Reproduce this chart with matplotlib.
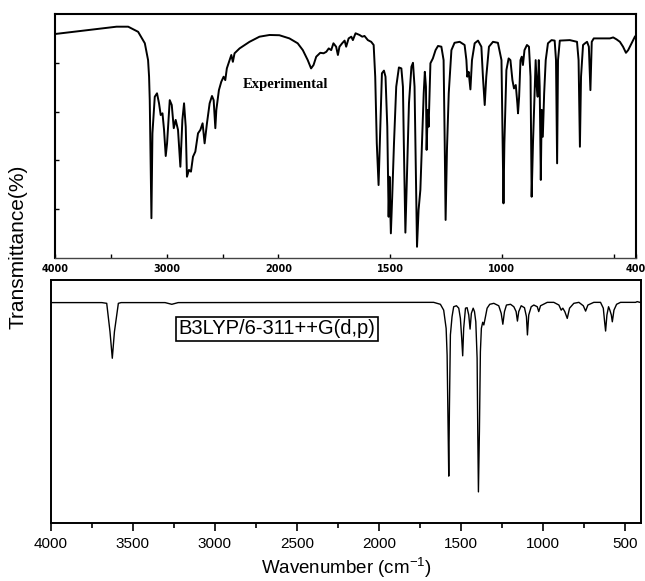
import matplotlib
matplotlib.use("Agg")
import matplotlib.pyplot as plt
import numpy as np

# experimental spectrum
top_wn = [4000, 3449, 3345, 3256, 3196, 3167, 3158, 3152, 3137, 3128, 3107, 3087, 3069, 3054, 3038, 3024,
          3009, 2997, 2973, 2955, 2937, 2920, 2899, 2878, 2860, 2845, 2830, 2819, 2801, 2783, 2765, 2744,
          2720, 2699, 2679, 2661, 2640, 2616, 2595, 2580, 2565, 2556, 2533, 2512, 2491, 2476, 2462, 2437,
          2422, 2408, 2393, 2348, 2259, 2170, 2080, 1996, 1951, 1914, 1891, 1869, 1854, 1843, 1831, 1813,
          1798, 1786, 1775, 1764, 1754, 1742, 1734, 1727, 1715, 1704, 1697, 1686, 1674, 1667, 1655, 1637,
          1625, 1615, 1600, 1585, 1574, 1567, 1560, 1552, 1544, 1537, 1528, 1521, 1513, 1507, 1503, 1497,
          1491, 1483, 1473, 1461, 1450, 1443, 1439, 1432, 1425, 1416, 1405, 1398, 1391, 1386, 1380, 1373,
          1365, 1358, 1350, 1345, 1340, 1337, 1332, 1328, 1320, 1309, 1297, 1286, 1271, 1261, 1256, 1252,
          1246, 1238, 1226, 1212, 1189, 1167, 1159, 1155, 1149, 1141, 1134, 1122, 1107, 1092, 1085, 1077,
          1070, 1058, 1040, 1018, 1002, 998, 993, 989, 980, 970, 962, 953, 946, 938, 931, 928, 923, 917,
          911, 906, 899, 888, 879, 872, 867, 861, 854, 849, 844, 840, 835, 831, 826, 822, 817, 811, 804,
          794, 778, 764, 758, 753, 749, 741, 696, 664, 657, 651, 646, 637, 628, 619, 611, 604, 598, 589,
          517, 502, 487, 472, 458, 445, 435, 420, 405]
top_T = [91.8, 94.8, 94.8, 92.7, 88.0, 81.1, 74.3, 64.7, 16.3, 51.1, 66.1, 67.5, 63.4, 58.6, 59.3, 52.5,
         41.8, 47.0, 64.7, 62.7, 53.2, 56.6, 52.5, 37.4, 56.6, 63.4, 53.8, 33.3, 36.1, 35.4, 41.5, 43.6,
         51.1, 52.5, 55.2, 47.0, 55.2, 63.4, 66.4, 64.7, 53.2, 60.7, 68.8, 72.2, 74.3, 72.9, 77.7, 81.1,
         83.2, 80.4, 83.9, 85.9, 88.6, 90.7, 91.4, 91.3, 90.0, 88.0, 85.2, 81.1, 77.7, 79.1, 82.5, 84.1,
         83.9, 84.5, 85.9, 85.2, 88.0, 86.6, 83.2, 86.6, 88.0, 89.1, 86.6, 90.0, 90.7, 89.3, 92.1, 91.4,
         90.7, 91.0, 89.3, 88.6, 87.3, 74.3, 47.0, 29.9, 53.8, 75.7, 76.8, 74.3, 53.8, 16.9, 33.3, 10.1,
         25.1, 47.0, 70.2, 78.1, 77.7, 70.2, 47.0, 10.4, 33.3, 63.4, 78.4, 80.0, 70.2, 40.2, 4.6, 19.7,
         27.9, 47.0, 67.5, 76.3, 70.2, 44.3, 60.7, 53.8, 79.8, 81.8, 85.2, 86.9, 86.6, 81.1, 47.0, 15.6,
         44.3, 67.5, 85.2, 88.2, 88.6, 87.3, 81.1, 74.3, 76.3, 69.1, 81.1, 88.0, 89.1, 86.6, 74.3, 62.7,
         74.3, 86.6, 88.6, 88.2, 81.1, 53.8, 22.4, 47.0, 77.0, 81.8, 81.1, 72.9, 69.5, 70.9, 63.4, 59.3, 66.1, 81.1,
         82.5, 79.1, 85.2, 87.3, 86.6, 74.3, 25.1, 47.0, 67.5, 81.1, 70.2, 66.1, 81.1, 70.2, 32.0, 60.7, 49.7,
         67.5, 81.1, 88.0, 89.3, 89.1, 81.1, 38.8, 81.1, 89.1, 89.3, 88.6, 81.1, 45.6, 74.3, 87.3, 88.0, 88.6,
         86.6, 68.8, 88.6, 90.0, 90.0, 90.4, 89.6, 88.6, 86.6, 84.1, 85.2, 88.0, 90.7]

# calculated spectrum
bot_wn = [4000, 3690, 3660, 3640, 3626, 3613, 3589, 3572, 3304, 3263, 3224, 1665, 1624, 1604, 1589, 1583,
          1577, 1573, 1569, 1563, 1553, 1543, 1526, 1512, 1502, 1494, 1488, 1482, 1471, 1461, 1451, 1443,
          1435, 1424, 1416, 1408, 1400, 1396, 1392, 1386, 1380, 1374, 1366, 1359, 1349, 1339, 1323, 1298,
          1268, 1253, 1243, 1233, 1221, 1196, 1176, 1162, 1154, 1146, 1131, 1111, 1099, 1093, 1085, 1070,
          1054, 1033, 1024, 1013, 972, 932, 901, 887, 877, 865, 850, 836, 810, 779, 752, 738, 724, 688,
          647, 630, 622, 616, 608, 598, 590, 581, 575, 565, 549, 525, 433, 423, 407, 400]
bot_T = [90.7, 90.7, 90.4, 78.7, 67.8, 78.7, 90.4, 90.7, 90.7, 90.0, 90.7, 90.8, 90.0, 87.6, 80.1, 69.1,
         39.0, 19.3, 47.2, 77.4, 84.9, 89.0, 89.4, 88.4, 84.2, 76.0, 68.8, 80.1, 88.4, 88.6, 85.6, 79.8,
         86.3, 88.4, 87.0, 82.8, 67.8, 37.6, 12.8, 37.6, 70.5, 80.1, 82.6, 81.5, 84.9, 88.4, 90.0, 90.4,
         89.4, 86.3, 81.8, 87.0, 89.7, 90.0, 89.0, 87.0, 83.1, 87.0, 89.4, 88.6, 84.9, 77.4, 85.6, 89.0,
         89.7, 89.0, 87.0, 89.4, 90.8, 90.8, 89.7, 87.6, 88.4, 87.0, 84.2, 88.4, 90.4, 90.8, 89.4, 87.2,
         89.7, 90.8, 90.8, 88.4, 82.8, 79.0, 85.6, 89.0, 87.6, 85.6, 82.8, 87.6, 90.0, 90.8, 90.8, 91.1,
         90.8, 90.8]

top_ticks = [4000, 3500, 3000, 2500, 2000, 1500, 1000, 500, 400]
top_ticklabels = ['4000', '', '3000', '', '2000', '1500', '1000', '', '400']
bot_ticks = [4000, 3500, 3000, 2500, 2000, 1500, 1000, 500]


# old grating spectrometers: scale doubles below 2000 cm-1
def fwd(w):
    w = np.asarray(w, float)
    return np.where(w >= 2000, w, 2 * w - 2000)


def inv(u):
    u = np.asarray(u, float)
    return np.where(u >= 2000, u, (u + 2000) / 2)


fig = plt.figure(figsize=(6.45, 5.81), dpi=100)

# top: experimental
ax1 = fig.add_axes([55 / 645, 1 - 258 / 581, 581 / 645, 244 / 581])
ax1.plot(top_wn, top_T, color='black', lw=1.4)
ax1.set_xscale('function', functions=(fwd, inv))
ax1.set_xlim(4000, 400)
ax1.set_ylim(0, 100)
ax1.set_xticks(top_ticks)
ax1.set_xticklabels(top_ticklabels, fontsize=7, fontweight='bold')
ax1.set_yticks([20, 40, 60, 80])
ax1.set_yticklabels([])
ax1.tick_params(direction='in', length=3, width=1, pad=4)
ax1.minorticks_off()
for s in ['top', 'left', 'right']:
    ax1.spines[s].set_linewidth(1.5)
ax1.spines['bottom'].set_linewidth(1.0)
ax1.spines['bottom'].set_color('#444444')
ax1.text(0.397, 0.71, 'Experimental', transform=ax1.transAxes, ha='center', va='center',
         fontsize=10.5, fontweight='bold', family='Liberation Serif')

# bottom: B3LYP
ax2 = fig.add_axes([51 / 645, 1 - 523 / 581, 590 / 645, 243 / 581])
ax2.plot(bot_wn, bot_T, color='black', lw=1.0)
ax2.set_xlim(4000, 400)
ax2.set_ylim(0, 100)
ax2.set_xticks(bot_ticks)
ax2.set_xticks(np.arange(3750, 400, -500), minor=True)
ax2.set_yticks([])
ax2.tick_params(axis='x', which='major', direction='out', length=6, width=1.2, pad=4,
                labelsize=11)
ax2.tick_params(axis='x', which='minor', direction='out', length=3.5, width=1.2)
for lab in ax2.get_xticklabels():
    lab.set_family('Liberation Sans')
for s in ax2.spines.values():
    s.set_linewidth(1.4)
ax2.set_xlabel(r'Wavenumber (cm$^{\mathregular{-1}}$)', fontsize=13.5, family='Liberation Sans',
               labelpad=3)
ax2.text(277 / 645, 1 - 329 / 581, 'B3LYP/6-311++G(d,p)', transform=fig.transFigure,
         ha='center', va='center', fontsize=14.5, family='Liberation Sans',
         bbox=dict(boxstyle='square,pad=0.12', fc='white', ec='black', lw=1.2))

fig.text(18 / 645, 1 - 247 / 581, 'Transmittance(%)', rotation=90, ha='center', va='center',
         fontsize=15, family='Liberation Sans')

fig.savefig('out.png', dpi=100)
